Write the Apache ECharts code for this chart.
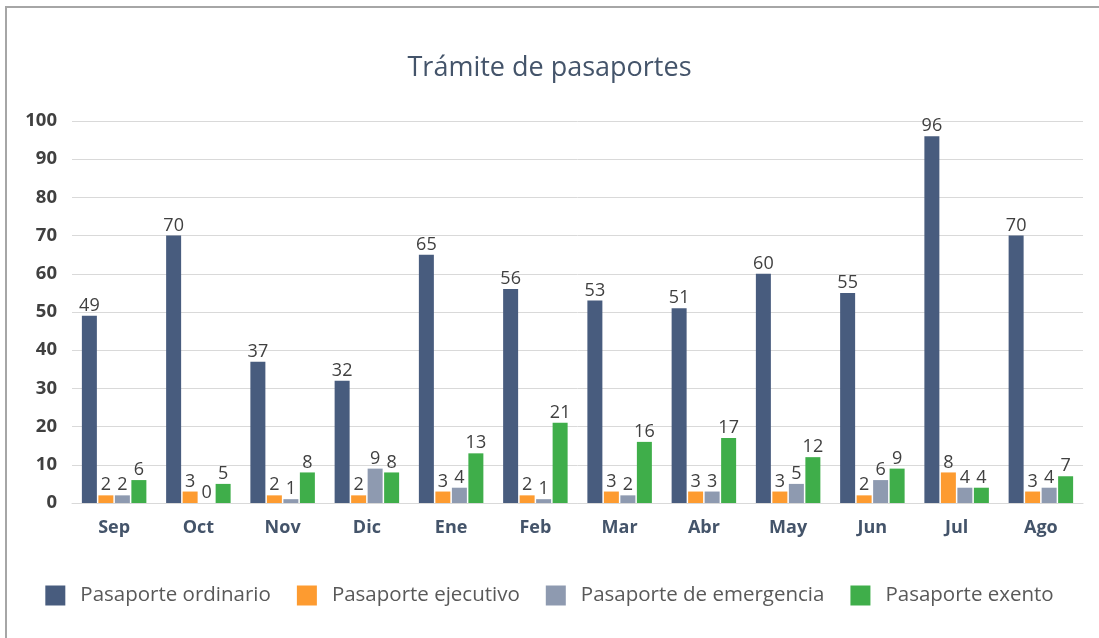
<!DOCTYPE html>
<html lang="es">
<head>
  <meta charset="UTF-8">
  <title>Trámite de pasaportes</title>
  <script src="https://cdn.jsdelivr.net/npm/echarts@6.0.0/dist/echarts.min.js"></script>
  <style>
    html, body { margin: 0; padding: 0; background: #fff; overflow: hidden; }
    #frame {
      position: absolute; left: 5px; top: 6px;
      width: 1200px; height: 700px;
      border-left: 2px solid #a6a6a6; border-top: 2px solid #a6a6a6;
    }
    #char { position: absolute; left: 0; top: 0; width: 1099px; height: 638px; }
  </style>
</head>
<body>
  <div id="frame"></div>
  <div id="char"></div>
  <script>
    // datos
    const meses = ['Sep', 'Oct', 'Nov', 'Dic', 'Ene', 'Feb', 'Mar', 'Abr', 'May', 'Jun', 'Jul', 'Ago'];
    const ordinario = [49, 70, 37, 32, 65, 56, 53, 51, 60, 55, 96, 70];
    const ejecutivo = [2, 3, 2, 2, 3, 2, 3, 3, 3, 2, 8, 3];
    const emergencia = [2, 0, 1, 9, 4, 1, 2, 3, 5, 6, 4, 4];
    const exento = [6, 5, 8, 8, 13, 21, 16, 17, 12, 9, 4, 7];
    const yTicks = [0, 10, 20, 30, 40, 50, 60, 70, 80, 90, 100];

    const fuente = '"Open Sans", Lato, sans-serif';
    const myChart = echarts.init(document.getElementById('char'), null, { renderer: 'canvas' });

    const etiqueta = {
      show: true, position: 'top', distance: 1,
      color: '#404040', fontSize: 18, fontFamily: fuente
    };
    function serie(nombre, datos, color) {
      return {
        name: nombre, type: 'bar', data: datos,
        barWidth: 15, barGap: '10%',
        itemStyle: { color: color },
        label: etiqueta
      };
    }

    const option = {
      animation: false,
      title: {
        text: 'Trámite de pasaportes', left: 'center', top: 50,
        textStyle: { color: '#44546a', fontSize: 27, fontWeight: 'normal', fontFamily: fuente }
      },
      legend: {
        bottom: 27, left: 'center', itemWidth: 20, itemHeight: 20, itemGap: 26,
        icon: 'rect',
        textStyle: { color: '#595959', fontSize: 20.5, fontFamily: fuente, padding: [0, 0, 0, 10] }
      },
      grid: { left: 72, right: 16, top: 121, bottom: 135, containLabel: false },
      xAxis: {
        type: 'category', data: meses,
        axisLine: { lineStyle: { color: '#d9d9d9' } },
        axisTick: { show: false },
        axisLabel: {
          color: '#44546a', fontSize: 18, fontWeight: 'bold', fontFamily: fuente, margin: 16
        }
      },
      yAxis: {
        type: 'value', min: yTicks[0], max: yTicks[yTicks.length - 1], interval: 10,
        axisLine: { show: false }, axisTick: { show: false },
        splitLine: { lineStyle: { color: '#d9d9d9' } },
        axisLabel: { color: '#404040', fontSize: 18.5, fontWeight: 'bold', fontFamily: fuente, margin: 15 }
      },
      series: [
        serie('Pasaporte ordinario', ordinario, '#485c7e'),
        serie('Pasaporte ejecutivo', ejecutivo, '#fd9b30'),
        serie('Pasaporte de emergencia', emergencia, '#8e9ab0'),
        serie('Pasaporte exento', exento, '#3fae4a')
      ]
    };
    option && myChart.setOption(option);
  </script>
</body>
</html>
